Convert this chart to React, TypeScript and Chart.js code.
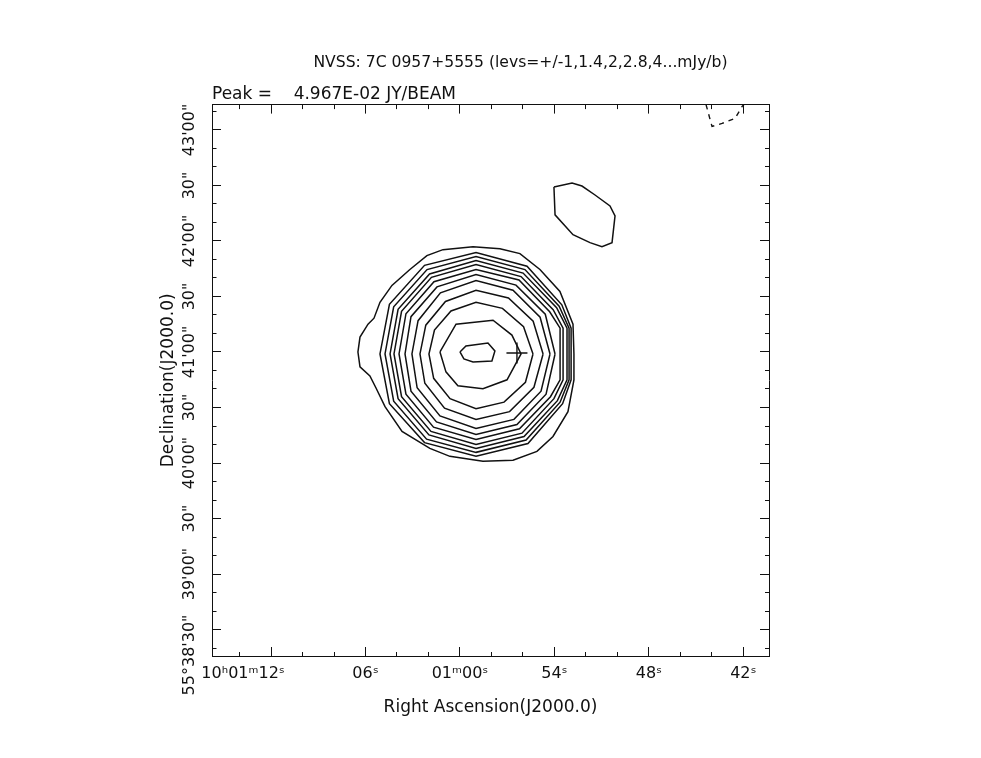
import React, { useEffect, useRef } from 'react';
import { Chart, registerables } from 'chart.js';

Chart.register(...registerables);

const FONT = "'DejaVu Sans', 'Liberation Sans', sans-serif";

const TITLE = 'NVSS: 7C 0957+5555 (levs=+/-1,1.4,2,2.8,4...mJy/b)';
const SUBTITLE = 'Peak =    4.967E-02 JY/BEAM';
const X_TITLE = 'Right Ascension(J2000.0)';
const Y_TITLE = 'Declination(J2000.0)';

// x: RA offset in seconds of time from 10h01m00s ; y: Dec offset in arcsec from +55°41'00"
const RA_MIN = -19.63;
const RA_MAX = 15.75;
const DEC_MIN = -164.3;
const DEC_MAX = 133.7;

const RA_TICKS = [14, 12, 10, 8, 6, 4, 2, 0, -2, -4, -6, -8, -10, -12, -14, -16, -18];
const RA_MAJOR = [12, 6, 0, -6, -12, -18];
// [prefix, last part] of each RA label; the last part sits centred on its tick
const RA_LABEL_PREFIX = ['10ʰ01ᵐ', '', '', '', '', ''];
const RA_LABEL_LAST = ['12ˢ', '06ˢ', '01ᵐ00ˢ', '54ˢ', '48ˢ', '42ˢ'];

const DEC_TICKS = [130, 120, 110, 100, 90, 80, 70, 60, 50, 40, 30, 20, 10, 0, -10, -20, -30, -40, -50, -60, -70, -80, -90, -100, -110, -120, -130, -140, -150, -160];
const DEC_MAJOR = [120, 90, 60, 30, 0, -30, -60, -90, -120, -150];
const DEC_LABEL_PREFIX = ['', '', '', '', '', '', '', '', '', '55°38\''];
const DEC_LABEL_LAST = ['43\'00"', '30"', '42\'00"', '30"', '41\'00"', '30"', '40\'00"', '30"', '39\'00"', '30"'];

// contour levels (mJy/beam): 1, 1.4, 2, 2.8, 4, 5.6, 8, 11.2, 16, 22.4, 32, 44.8
const C_1_0: number[][] = [
  [-7.24, -1.07], [-7.18, 15.04], [-6.35, 32.76], [-5.08, 44.58], [-3.81, 53.17], [-2.54, 55.85],
  [-0.83, 56.93], [1.08, 55.32], [2.10, 52.09], [3.18, 44.58], [4.32, 35.98], [5.08, 26.85],
  [5.46, 18.26], [5.84, 15.04], [6.35, 8.06], [6.48, 0], [6.35, -8.06], [5.72, -12.89],
  [5.34, -19.33], [4.76, -29.54], [3.68, -42.96], [1.91, -52.09], [0.64, -56.39], [-1.46, -59.08],
  [-3.37, -58.54], [-4.89, -53.71], [-5.91, -45.65], [-6.86, -32.22], [-7.24, -15.04],
];
const C_1_4: number[][] = [
  [-7.06, -1.07], [-7.06, 12.89], [-6.47, 25.51], [-4.26, 46.36], [-1.02, 53.71], [2.25, 46.84], [4.48, 25.78],
  [5.08, -1.07], [4.48, -27.92], [2.25, -48.98], [-1.02, -56.39], [-4.32, -49.46], [-6.52, -27.92], [-7.06, -15.03],
];
const C_2_0: number[][] = [
  [-6.93, -1.07], [-6.93, 12.89], [-6.30, 24.71], [-4.13, 44.53], [-1.02, 51.56], [2.09, 44.53], [4.21, 24.44],
  [4.76, -1.07], [4.21, -26.58], [2.12, -47.10], [-1.02, -54.24], [-4.20, -47.58], [-6.36, -27.12], [-6.93, -15.03],
];
const C_2_8: number[][] = [
  [-6.80, -1.07], [-6.80, 12.89], [-6.14, 23.90], [-4.01, 42.65], [-1.02, 49.41], [1.93, 42.18], [3.93, 23.10],
  [4.44, -1.07], [3.93, -25.24], [1.97, -44.79], [-1.02, -52.09], [-4.07, -45.71], [-6.19, -26.31], [-6.80, -15.03],
];
const C_4_0: number[][] = [
  [-6.55, -1.07], [-6.55, 12.89], [-5.92, 22.83], [-3.88, 40.77], [-1.02, 47.27], [1.81, 40.34], [3.71, 22.02],
  [4.19, -1.07], [3.71, -24.16], [1.84, -42.91], [-1.02, -49.94], [-3.94, -43.87], [-5.97, -25.24], [-6.55, -15.03],
];
const C_5_6: number[][] = [
  [-6.36, -1.07], [-6.36, 12.89], [-5.70, 21.76], [-3.75, 38.94], [-1.02, 44.58], [1.65, 37.97], [3.43, 20.68],
  [3.87, -1.07], [3.43, -22.82], [1.68, -40.60], [-1.02, -47.26], [-3.78, -41.51], [-5.75, -24.16], [-6.36, -15.03],
];
const C_8_0: number[][] = [
  [-6.04, -1.07], [-5.42, 20.41], [-3.56, 36.15], [-1.02, 41.89], [1.46, 35.18], [3.11, 19.07],
  [3.49, -1.07], [3.11, -21.21], [1.49, -37.80], [-1.02, -44.57], [-3.62, -39.20], [-5.47, -22.82],
];
const C_11_2: number[][] = [
  [-5.72, -1.07], [-5.09, 18.80], [-3.37, 33.36], [-1.02, 38.67], [1.24, 31.96], [2.66, 16.92],
  [3.05, -1.07], [2.72, -19.33], [1.27, -34.58], [-1.02, -41.35], [-3.43, -36.41], [-5.15, -21.21],
];
const C_16_0: number[][] = [
  [-5.28, -1.07], [-4.65, 16.65], [-3.08, 29.17], [-1.02, 33.30], [0.92, 27.29], [2.17, 14.50],
  [2.54, -1.07], [2.23, -16.91], [0.98, -30.39], [-1.02, -36.52], [-3.15, -32.22], [-4.70, -19.06],
];
const C_22_4: number[][] = [
  [-4.64, -1.07], [-4.04, 13.70], [-2.70, 23.58], [-1.02, 26.86], [0.57, 22.18], [1.62, 11.82],
  [1.97, -1.07], [1.67, -14.23], [0.63, -25.24], [-1.02, -30.61], [-2.80, -27.12], [-4.16, -16.38],
];
const C_32_0: number[][] = [
  [1.27, 0], [0.25, 15.04], [-2.10, 17.19], [-3.30, 9.13], [-3.88, -1.07], [-2.99, -15.04],
  [-1.46, -19.87], [0.13, -18.26], [0.89, -10.74],
];
const C_44_8: number[][] = [
  [0, 0], [-0.38, 3.22], [-1.78, 4.83], [-2.22, 0.54], [-2.03, -4.83], [-0.83, -5.37], [-0.25, -3.76],
];
// separate 1 mJy/beam blob to the north-east
const C_NE_1_0: number[][] = [
  [-5.97, 89.15], [-7.12, 91.30], [-7.75, 89.69], [-8.58, 84.85], [-9.53, 78.95], [-9.85, 73.58],
  [-9.66, 59.08], [-9.02, 56.93], [-8.26, 59.08], [-7.18, 63.37], [-6.04, 74.11],
];
// negative (-1 mJy/beam) contour cut by the top edge
const C_NEG_1_0: number[][] = [
  [-15.63, 133.7], [-16.01, 121.91], [-16.65, 123.52], [-17.47, 126.21], [-17.92, 132.65], [-18.04, 133.7],
];
// catalogue position marker
const MARKER: number[][] = [[-3.62, -0.54]];

const POS_CONTOURS = [C_1_0, C_1_4, C_2_0, C_2_8, C_4_0, C_5_6, C_8_0, C_11_2, C_16_0, C_22_4, C_32_0, C_44_8, C_NE_1_0];

const near = (list: number[], v: number) => list.findIndex((m) => Math.abs(m - v) < 1e-6);

export default function App() {
  const ref = useRef<HTMLCanvasElement>(null);

  useEffect(() => {
    const canvas = ref.current;
    if (!canvas) return;

    const tickSize = 16;
    const m = document.createElement('canvas').getContext('2d')!;
    m.font = `${tickSize}px ${FONT}`;
    const spaceW = m.measureText(' ').width;
    // label text = prefix + last part + blank tail as wide as the prefix, so the last part is centred on the tick
    const build = (pre: string[], last: string[]) =>
      last.map((l, i) => pre[i] + l + ' '.repeat(Math.round(m.measureText(pre[i]).width / spaceW)));
    const raLabels = build(RA_LABEL_PREFIX, RA_LABEL_LAST);
    const decLabels = build(DEC_LABEL_PREFIX, DEC_LABEL_LAST);
    const widest = Math.max(...decLabels.map((l) => m.measureText(l).width));

    const toXY = (pts: number[][]) => pts.map(([x, y]) => ({ x, y }));

    const datasets: any[] = POS_CONTOURS.map((pts) => ({
      data: toXY([...pts, pts[0]]),
      showLine: true,
      borderColor: '#111',
      borderWidth: 1.5,
      pointRadius: 0,
      tension: 0,
      fill: false,
    }));
    datasets.push({
      data: toXY(C_NEG_1_0),
      showLine: true,
      borderColor: '#111',
      borderWidth: 1.4,
      borderDash: [5, 5],
      pointRadius: 0,
      tension: 0,
      fill: false,
    });
    datasets.push({
      data: toXY(MARKER),
      showLine: false,
      pointStyle: 'cross',
      pointRadius: 10.5,
      pointBorderWidth: 1.4,
      pointBorderColor: '#111',
      pointBackgroundColor: '#111',
    });

    const gridCommon = {
      drawOnChartArea: false,
      drawTicks: true,
      tickLength: -9,
      tickColor: '#111',
      tickWidth: 1,
      color: '#111',
    };
    const border = { display: true, color: '#111', width: 1 };

    const raDashOuterStart = (c: any) => (c.tick && near(RA_MAJOR, c.tick.value) >= 0 ? [] : [5, 100]);
    const raDashInnerStart = (c: any) => (c.tick && near(RA_MAJOR, c.tick.value) >= 0 ? [] : [0, 4.5, 5, 100]);
    const decDashOuterStart = (c: any) => (c.tick && near(DEC_MAJOR, c.tick.value) >= 0 ? [] : [5, 100]);
    const decDashInnerStart = (c: any) => (c.tick && near(DEC_MAJOR, c.tick.value) >= 0 ? [] : [0, 4.5, 5, 100]);

    const chart = new Chart(canvas, {
      type: 'scatter',
      data: { datasets },
      options: {
        animation: false,
        responsive: false,
        maintainAspectRatio: false,
        devicePixelRatio: 1,
        events: [],
        layout: { padding: { left: 60, right: 0, top: 0, bottom: 0 } },
        font: { family: FONT },
        color: '#111',
        plugins: {
          legend: { display: false },
          tooltip: { enabled: false },
          title: {
            display: true,
            text: TITLE,
            color: '#111',
            font: { family: FONT, size: 15.6, weight: 'normal', lineHeight: 1 },
            padding: { top: 55, bottom: 0 },
          },
          subtitle: {
            display: true,
            text: SUBTITLE,
            align: 'start',
            fullSize: false,
            color: '#111',
            font: { family: FONT, size: 17, weight: 'normal', lineHeight: 1 },
            padding: { top: 15, bottom: 0 },
          },
        },
        scales: {
          x: {
            type: 'linear',
            position: 'bottom',
            min: RA_MIN,
            max: RA_MAX,
            reverse: true,
            afterBuildTicks: (s: any) => { s.ticks = RA_TICKS.map((v) => ({ value: v })); },
            afterFit: (s: any) => { s.height = 102; },
            grid: { ...gridCommon, tickBorderDash: raDashOuterStart },
            border,
            ticks: {
              autoSkip: false,
              maxRotation: 0,
              minRotation: 0,
              padding: 17,
              color: '#111',
              font: { family: FONT, size: tickSize },
              callback: (v: any) => { const i = near(RA_MAJOR, Number(v)); return i >= 0 ? raLabels[i] : ''; },
            },
            title: {
              display: true,
              text: X_TITLE,
              color: '#111',
              font: { family: FONT, size: 17, lineHeight: 1.2 },
              padding: { top: 0, bottom: 40 },
            },
          },
          x2: {
            type: 'linear',
            position: 'top',
            min: RA_MIN,
            max: RA_MAX,
            reverse: true,
            afterBuildTicks: (s: any) => { s.ticks = RA_TICKS.map((v) => ({ value: v })); },
            afterFit: (s: any) => { s.height = 2; },
            grid: { ...gridCommon, tickBorderDash: raDashInnerStart },
            border,
            ticks: { display: false },
          },
          y: {
            type: 'linear',
            position: 'left',
            min: DEC_MIN,
            max: DEC_MAX,
            afterBuildTicks: (s: any) => { s.ticks = DEC_TICKS.map((v) => ({ value: v })); },
            afterFit: (s: any) => { s.width = 152; },
            grid: { ...gridCommon, tickBorderDash: decDashInnerStart },
            border,
            ticks: {
              autoSkip: false,
              minRotation: 90,
              maxRotation: 90,
              crossAlign: 'center',
              padding: 31 - widest / 2,
              color: '#111',
              font: { family: FONT, size: tickSize },
              callback: (v: any) => { const i = near(DEC_MAJOR, Number(v)); return i >= 0 ? decLabels[i] : ''; },
            },
            title: {
              display: true,
              text: Y_TITLE,
              color: '#111',
              font: { family: FONT, size: 17, lineHeight: 1.2 },
              padding: { top: 98, bottom: 0 },
            },
          },
          y2: {
            type: 'linear',
            position: 'right',
            min: DEC_MIN,
            max: DEC_MAX,
            afterBuildTicks: (s: any) => { s.ticks = DEC_TICKS.map((v) => ({ value: v })); },
            afterFit: (s: any) => { s.width = 212; },
            grid: { ...gridCommon, tickBorderDash: decDashOuterStart },
            border,
            ticks: { display: false },
          },
        },
      } as any,
    });

    return () => chart.destroy();
  }, []);

  return (
    <div style={{ position: 'fixed', left: 0, top: 0, width: 981, height: 758, background: '#fff' }}>
      <canvas ref={ref} width={981} height={758} style={{ display: 'block', width: 981, height: 758 }} />
    </div>
  );
}
